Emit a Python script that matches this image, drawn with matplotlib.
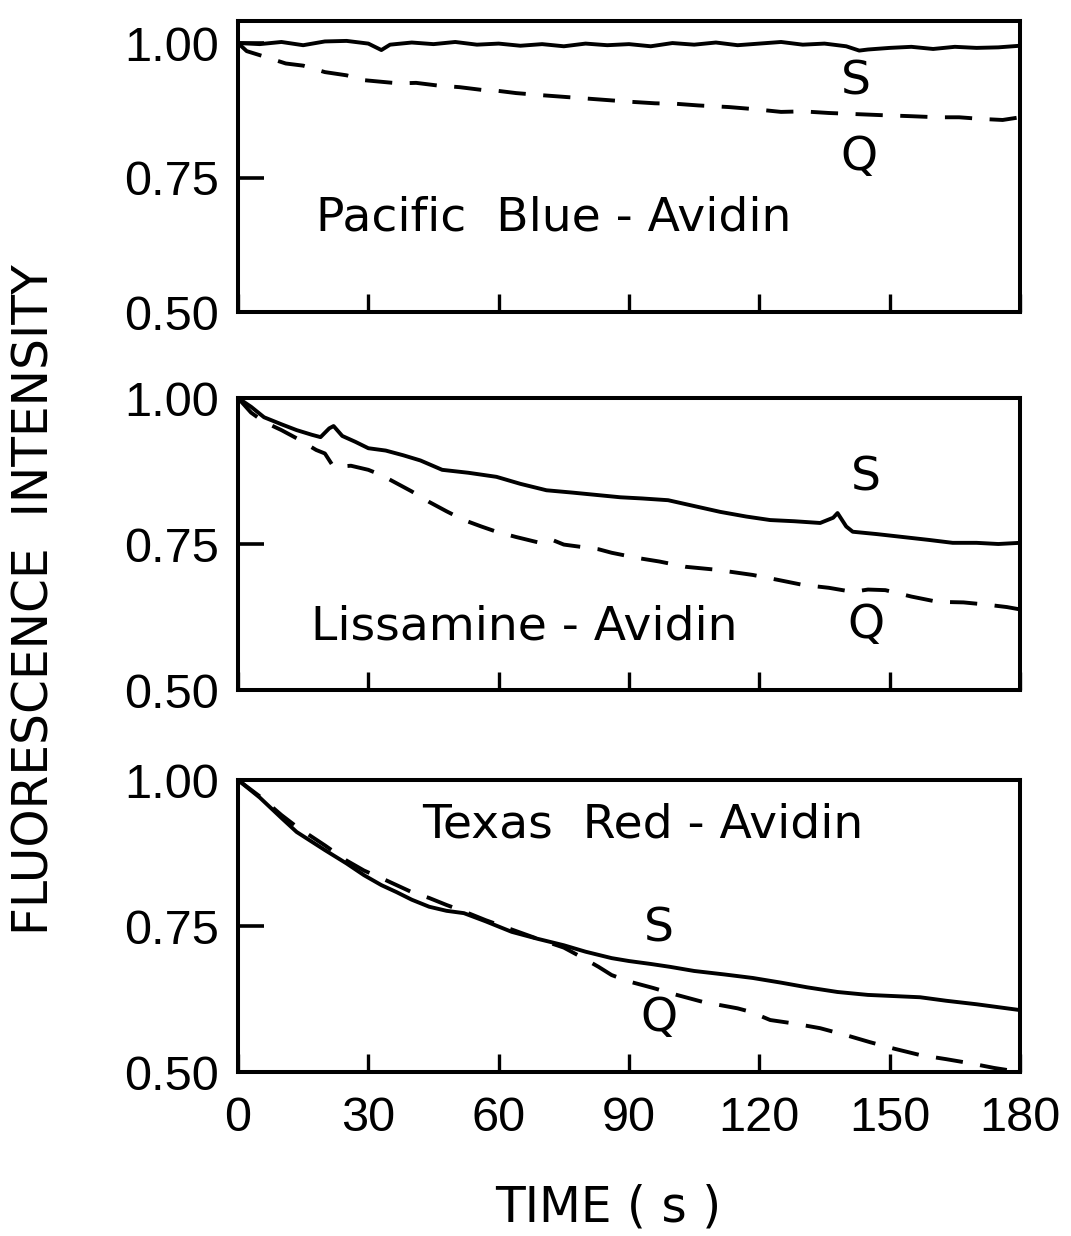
import numpy as np
import matplotlib
matplotlib.use("Agg")
import matplotlib.pyplot as plt

plt.rcParams['font.family'] = ['Liberation Sans', 'DejaVu Sans']

# ---- data (time in s, normalised intensity) ----
# Pacific Blue - Avidin
pb_s_t = [0, 5, 10, 15, 20, 25, 30, 33, 35, 40, 45, 50, 55, 60, 65, 70, 75, 80, 85, 90,
          95, 100, 105, 110, 115, 120, 125, 130, 135, 140, 143, 145, 150, 155, 160, 165, 170, 175, 180]
pb_s = [1.000, 0.998, 1.002, 0.996, 1.003, 1.004, 0.999, 0.987, 0.997, 1.001, 0.998, 1.002, 0.997,
        0.999, 0.995, 0.998, 0.994, 0.999, 0.996, 0.998, 0.994, 1.000, 0.997, 1.001, 0.996, 0.999,
        1.002, 0.997, 0.999, 0.994, 0.986, 0.988, 0.991, 0.993, 0.989, 0.993, 0.991, 0.992, 0.995]
pb_q_t = [0, 2, 6, 11, 15, 20, 25, 29, 33, 37, 41, 46, 51, 56, 60, 64, 70, 75, 80, 85, 90, 96,
          101, 106, 113, 119, 125, 130, 136, 142, 148, 155, 161, 166, 171, 176, 180]
pb_q = [1.000, 0.985, 0.975, 0.962, 0.958, 0.946, 0.940, 0.931, 0.928, 0.925, 0.926, 0.921, 0.918,
        0.913, 0.911, 0.907, 0.903, 0.900, 0.897, 0.894, 0.891, 0.888, 0.887, 0.884, 0.881, 0.877,
        0.872, 0.873, 0.870, 0.868, 0.866, 0.864, 0.862, 0.862, 0.859, 0.857, 0.862]

# Lissamine - Avidin
li_s_t = [0, 3, 6, 10, 13.5, 17, 19, 21, 22, 24, 27, 30, 34, 38, 42, 47, 53, 59.5, 65, 71, 77,
          82.5, 88, 93, 99, 105, 111, 117, 122.5, 128, 134, 137, 138, 140, 141.5, 147, 153, 159,
          164.5, 170, 175, 180]
li_s = [1.000, 0.985, 0.967, 0.955, 0.945, 0.937, 0.933, 0.948, 0.952, 0.935, 0.925, 0.914, 0.910,
        0.902, 0.893, 0.877, 0.872, 0.865, 0.853, 0.842, 0.838, 0.834, 0.830, 0.828, 0.825, 0.815,
        0.805, 0.797, 0.791, 0.789, 0.786, 0.795, 0.803, 0.780, 0.771, 0.767, 0.762, 0.757, 0.752,
        0.752, 0.750, 0.752]
li_q_t = [0, 3, 6, 10, 13.5, 18, 20, 22, 26, 30, 33, 36.5, 40, 44, 48, 52, 56, 59.5, 64, 69.5, 72,
          75, 79, 83, 86, 92, 97, 103, 110, 118.5, 124, 130, 136, 141.5, 145, 149, 155, 161, 167,
          172.5, 177, 180]
li_q = [1.000, 0.975, 0.959, 0.945, 0.931, 0.911, 0.905, 0.882, 0.884, 0.877, 0.868, 0.854, 0.840,
        0.822, 0.806, 0.791, 0.780, 0.771, 0.762, 0.752, 0.758, 0.749, 0.745, 0.741, 0.735, 0.726,
        0.720, 0.711, 0.706, 0.697, 0.689, 0.680, 0.675, 0.668, 0.672, 0.671, 0.660, 0.651, 0.650,
        0.646, 0.642, 0.638]

# Texas Red - Avidin
tr_s_t = [0, 5, 10, 13.5, 20, 25, 29, 33, 36.5, 40, 44, 48, 52, 57, 63, 69, 75, 80, 86, 90, 95,
          99.5, 105, 112, 118.5, 125, 131, 138, 145, 151, 157, 163, 170, 175, 180]
tr_s = [1.000, 0.970, 0.935, 0.911, 0.880, 0.857, 0.837, 0.820, 0.808, 0.795, 0.783, 0.776, 0.772,
        0.758, 0.740, 0.728, 0.717, 0.706, 0.695, 0.690, 0.685, 0.680, 0.673, 0.667, 0.661, 0.653,
        0.645, 0.637, 0.632, 0.630, 0.628, 0.622, 0.616, 0.611, 0.606]
tr_q_t = [0, 5, 10, 13.5, 20, 25, 29, 33, 36.5, 40, 44, 48, 52, 57, 63, 69, 75, 79, 83, 86, 90,
          95.5, 101, 107, 115, 118, 122.5, 128, 134, 140, 145.5, 151, 157, 163, 168.5, 174, 180]
tr_q = [1.000, 0.972, 0.940, 0.920, 0.888, 0.862, 0.845, 0.832, 0.820, 0.808, 0.798, 0.786, 0.775,
        0.760, 0.744, 0.728, 0.713, 0.697, 0.680, 0.666, 0.655, 0.644, 0.632, 0.620, 0.609, 0.603,
        0.589, 0.583, 0.575, 0.563, 0.551, 0.540, 0.529, 0.522, 0.515, 0.507, 0.500]

panel_names = ["Pacific  Blue - Avidin", "Lissamine - Avidin", "Texas  Red - Avidin"]
xticks = [0, 30, 60, 90, 120, 150, 180]
yticks = [0.50, 0.75, 1.00]

series = [
    (pb_s_t, pb_s, pb_q_t, pb_q),
    (li_s_t, li_s, li_q_t, li_q),
    (tr_s_t, tr_s, tr_q_t, tr_q),
]
# label positions (time, intensity)
name_pos = [(72.7, 0.675), (65.8, 0.608), (93.2, 0.923)]
s_pos = [(142.3, 0.927), (144.6, 0.863), (96.9, 0.745)]
q_pos = [(143.0, 0.788), (144.6, 0.611), (96.9, 0.591)]
ytops = [1.041, 1.0, 1.0]

W, H = 1071, 1236
fig = plt.figure(figsize=(W / 100, H / 100), dpi=100)
left = 238 / W
width = (1020 - 238) / W
frames = [(21, 312), (398, 690), (780, 1072)]

lw = 2.8
label_font = 'DejaVu Sans'
for i, (top, bot) in enumerate(frames):
    ax = fig.add_axes([left, (H - bot) / H, width, (bot - top) / H])
    st, sv, qt, qv = series[i]
    ax.plot(st, sv, color='black', lw=lw, solid_joinstyle='round')
    ax.plot(qt, qv, color='black', lw=lw, linestyle=(0, (7, 4.5)))
    ax.set_xlim(0, 180)
    ax.set_ylim(0.5, ytops[i])
    ax.set_xticks(xticks)
    ax.set_yticks(yticks)
    ax.set_yticklabels(["0.50", "0.75", "1.00"])
    ax.tick_params(axis='y', direction='in', length=19, width=2.6, pad=14, labelsize=35)
    ax.tick_params(axis='x', direction='in', length=13, width=2.4, pad=17, labelsize=35)
    if i < 2:
        ax.tick_params(axis='x', labelbottom=False)
    for sp in ax.spines.values():
        sp.set_linewidth(2.9)
    ax.text(*name_pos[i], panel_names[i], ha='center', va='center', fontsize=34, family=label_font)
    ax.text(*s_pos[i], "S", ha='center', va='center', fontsize=34, family=label_font)
    ax.text(*q_pos[i], "Q", ha='center', va='center', fontsize=34, family=label_font)

fig.text(35 / W, 1 - 600 / H, "FLUORESCENCE  INTENSITY", rotation=90,
         ha='center', va='center', fontsize=35, family=label_font)
fig.text(608 / W, 1 - 1207 / H, "TIME ( s )", ha='center', va='center',
         fontsize=35, family=label_font)

fig.savefig("out.png", dpi=100)
